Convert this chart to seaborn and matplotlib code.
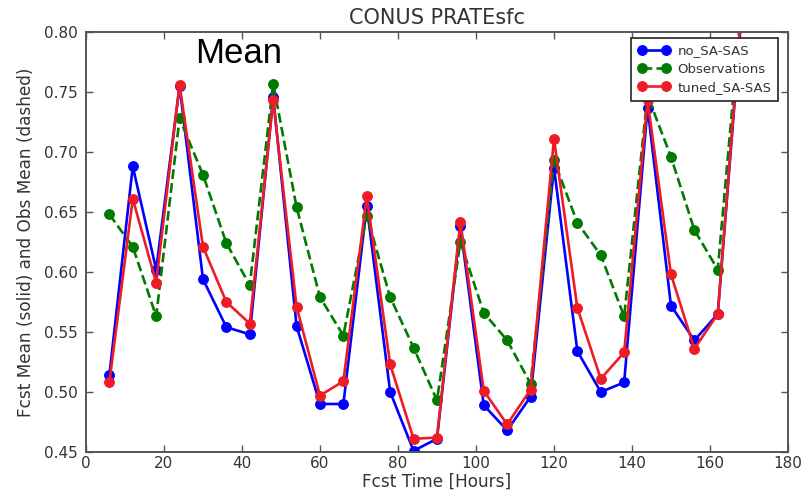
import matplotlib
matplotlib.use("Agg")
import matplotlib.pyplot as plt
import seaborn as sns
import pandas as pd

# Forecast hours (x axis)
hours = [6, 12, 18, 24, 30, 36, 42, 48, 54, 60, 66, 72, 78, 84,
         90, 96, 102, 108, 114, 120, 126, 132, 138, 144, 150, 156, 162, 168]

# Area-mean precipitation rate, CONUS
no_sa_sas = [0.514, 0.688, 0.602, 0.755, 0.594, 0.554, 0.548, 0.746, 0.555, 0.490,
             0.490, 0.655, 0.500, 0.451, 0.461, 0.638, 0.489, 0.468, 0.496, 0.687,
             0.534, 0.500, 0.508, 0.737, 0.572, 0.543, 0.565, 0.810]
observations = [0.648, 0.621, 0.563, 0.728, 0.681, 0.624, 0.589, 0.757, 0.654, 0.579,
                0.547, 0.647, 0.579, 0.537, 0.493, 0.625, 0.566, 0.543, 0.507, 0.693,
                0.641, 0.614, 0.563, 0.747, 0.696, 0.635, 0.602, 0.820]
tuned_sa_sas = [0.508, 0.661, 0.591, 0.756, 0.621, 0.575, 0.557, 0.743, 0.571, 0.497,
                0.509, 0.663, 0.523, 0.461, 0.462, 0.642, 0.501, 0.473, 0.502, 0.711,
                0.570, 0.511, 0.533, 0.743, 0.598, 0.536, 0.565, 0.815]

series = [
    ("no_SA-SAS", no_sa_sas, "#0000ff", "-"),
    ("Observations", observations, "#007a00", "--"),
    ("tuned_SA-SAS", tuned_sa_sas, "#ee1c24", "-"),
]

sns.set_style("white")
plt.rcParams["font.family"] = ["DejaVu Sans"]

fig = plt.figure(figsize=(8.02, 4.95), dpi=100)
ax = fig.add_axes([0.1072, 0.0869, 0.8753, 0.8485])

for name, vals, color, ls in series:
    df = pd.DataFrame({"hour": hours, "value": vals})
    sns.lineplot(data=df, x="hour", y="value", ax=ax, color=color,
                 linestyle=ls, linewidth=1.9, marker="o", markersize=7,
                 markeredgecolor=color, markeredgewidth=0.8, label=name)

ax.set_xlim(0, 180)
ax.set_ylim(0.45, 0.80)
ax.set_xticks(range(0, 181, 20))
ax.set_yticks([0.45, 0.50, 0.55, 0.60, 0.65, 0.70, 0.75, 0.80])
ax.set_yticklabels([f"{v:.2f}" for v in ax.get_yticks()])

ax.tick_params(direction="in", length=5, width=1, colors="#555555",
               labelcolor="#333333", labelsize=11, top=True, right=True,
               bottom=True, left=True)
ax.tick_params(axis="y", pad=6)
ax.tick_params(axis="x", pad=3)
for sp in ax.spines.values():
    sp.set_color("#555555")
    sp.set_linewidth(1.4)

ax.set_title("CONUS PRATEsfc", fontsize=15, color="#333333", pad=6)
ax.set_xlabel("Fcst Time [Hours]", fontsize=12.2, color="#333333", labelpad=1)
ax.set_ylabel("Fcst Mean (solid) and Obs Mean (dashed)", fontsize=12.2,
              color="#333333", labelpad=6)

leg = ax.legend(loc="upper right", bbox_to_anchor=(0.986, 0.986), numpoints=2,
                fancybox=False, framealpha=1, edgecolor="#222222", fontsize=9.5,
                handlelength=2.4, borderpad=0.5, labelspacing=0.4,
                handletextpad=0.6, borderaxespad=0.0)
leg.get_frame().set_linewidth(1.2)
for t in leg.get_texts():
    t.set_color("#333333")

fig.text(0.243, 0.872, "Mean", fontsize=25, family="Liberation Sans", color="black")

fig.savefig("out.png", dpi=100)
